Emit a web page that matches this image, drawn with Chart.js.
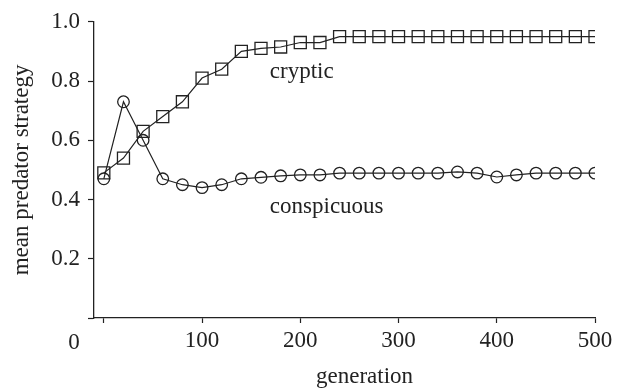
<!DOCTYPE html>
<html>
<head>
<meta charset="utf-8">
<script src="https://cdn.jsdelivr.net/npm/chart.js@4/dist/chart.umd.min.js"></script>
<style>
  html, body { margin: 0; padding: 0; background: #fff; }
  #wrap { width: 628px; height: 391px; }
</style>
</head>
<body>
<div id="wrap"><canvas id="chart" width="628" height="391"></canvas></div>
<script>
const generations = [0, 20, 40, 60, 80, 100, 120, 140, 160, 180, 200, 220, 240,
  260, 280, 300, 320, 340, 360, 380, 400, 420, 440, 460, 480, 500];
const cryptic = [0.49, 0.54, 0.63, 0.68, 0.73, 0.81, 0.84, 0.90, 0.91, 0.915, 0.93, 0.93, 0.95,
  0.95, 0.95, 0.95, 0.95, 0.95, 0.95, 0.95, 0.95, 0.95, 0.95, 0.95, 0.95, 0.95];
const conspicuous = [0.47, 0.73, 0.60, 0.47, 0.45, 0.44, 0.45, 0.47, 0.475, 0.48, 0.483, 0.483, 0.489,
  0.489, 0.489, 0.489, 0.489, 0.489, 0.493, 0.489, 0.476, 0.483, 0.489, 0.489, 0.489, 0.489];
const yTicks = [0, 0.2, 0.4, 0.6, 0.8, 1.0];
const xTicks = [0, 100, 200, 300, 400, 500];

const ink = '#222';
const font = { family: '"Liberation Serif", "Times New Roman", serif', size: 23 };

const toPoints = ys => generations.map((g, i) => ({ x: g, y: ys[i] }));

// titles, the corner "0" and the series labels
const textPlugin = {
  id: 'texts',
  afterDraw(chart) {
    const { ctx, chartArea, scales } = chart;
    ctx.save();
    ctx.fillStyle = ink;
    ctx.font = `${font.size}px ${font.family}`;

    ctx.textAlign = 'left';
    ctx.textBaseline = 'alphabetic';
    ctx.fillText('cryptic', scales.x.getPixelForValue(169), scales.y.getPixelForValue(0.81));
    ctx.fillText('conspicuous', scales.x.getPixelForValue(169), scales.y.getPixelForValue(0.356));

    ctx.textAlign = 'center';
    ctx.fillText('generation', (chartArea.left + chartArea.right) / 2 + 20, 383);
    ctx.fillText('0', chartArea.left - 20, 349);

    ctx.translate(28, (chartArea.top + chartArea.bottom) / 2);
    ctx.rotate(-Math.PI / 2);
    ctx.fillText('mean predator strategy', 0, 0);
    ctx.restore();
  }
};

new Chart(document.getElementById('chart'), {
  type: 'line',
  data: {
    datasets: [
      {
        label: 'cryptic',
        data: toPoints(cryptic),
        borderColor: ink,
        borderWidth: 1.2,
        backgroundColor: 'rgba(0,0,0,0)',
        pointStyle: 'rect',
        pointRadius: 8.5,
        pointBorderWidth: 1.3,
        pointBorderColor: ink,
        pointBackgroundColor: 'rgba(0,0,0,0)',
        tension: 0
      },
      {
        label: 'conspicuous',
        data: toPoints(conspicuous),
        borderColor: ink,
        borderWidth: 1.2,
        backgroundColor: 'rgba(0,0,0,0)',
        pointStyle: 'circle',
        pointRadius: 5.8,
        pointBorderWidth: 1.3,
        pointBorderColor: ink,
        pointBackgroundColor: 'rgba(0,0,0,0)',
        tension: 0
      }
    ]
  },
  options: {
    responsive: false,
    animation: false,
    layout: { padding: { top: 20, right: 33, left: 0, bottom: 0 } },
    plugins: {
      legend: { display: false },
      tooltip: { enabled: false }
    },
    scales: {
      x: {
        type: 'linear',
        min: -10,
        max: 500,
        afterBuildTicks: axis => { axis.ticks = xTicks.map(v => ({ value: v })); },
        afterFit: axis => { axis.height = 73; },
        ticks: {
          color: ink,
          font: font,
          padding: 4,
          maxRotation: 0,
          callback: v => (v === 0 ? '' : String(v))
        },
        grid: { drawOnChartArea: false, tickLength: 5, color: ink, tickWidth: 1.2 },
        border: { display: true, color: ink, width: 1.3 }
      },
      y: {
        min: 0,
        max: 1,
        afterBuildTicks: axis => { axis.ticks = yTicks.map(v => ({ value: v })); },
        afterFit: axis => { axis.width = 94; },
        ticks: {
          color: ink,
          font: font,
          padding: 8,
          callback: v => (v === 0 ? '' : v.toFixed(1))
        },
        grid: { drawOnChartArea: false, tickLength: 6, color: ink, tickWidth: 1.2 },
        border: { display: true, color: ink, width: 1.3 }
      }
    }
  },
  plugins: [textPlugin]
});
</script>
</body>
</html>
